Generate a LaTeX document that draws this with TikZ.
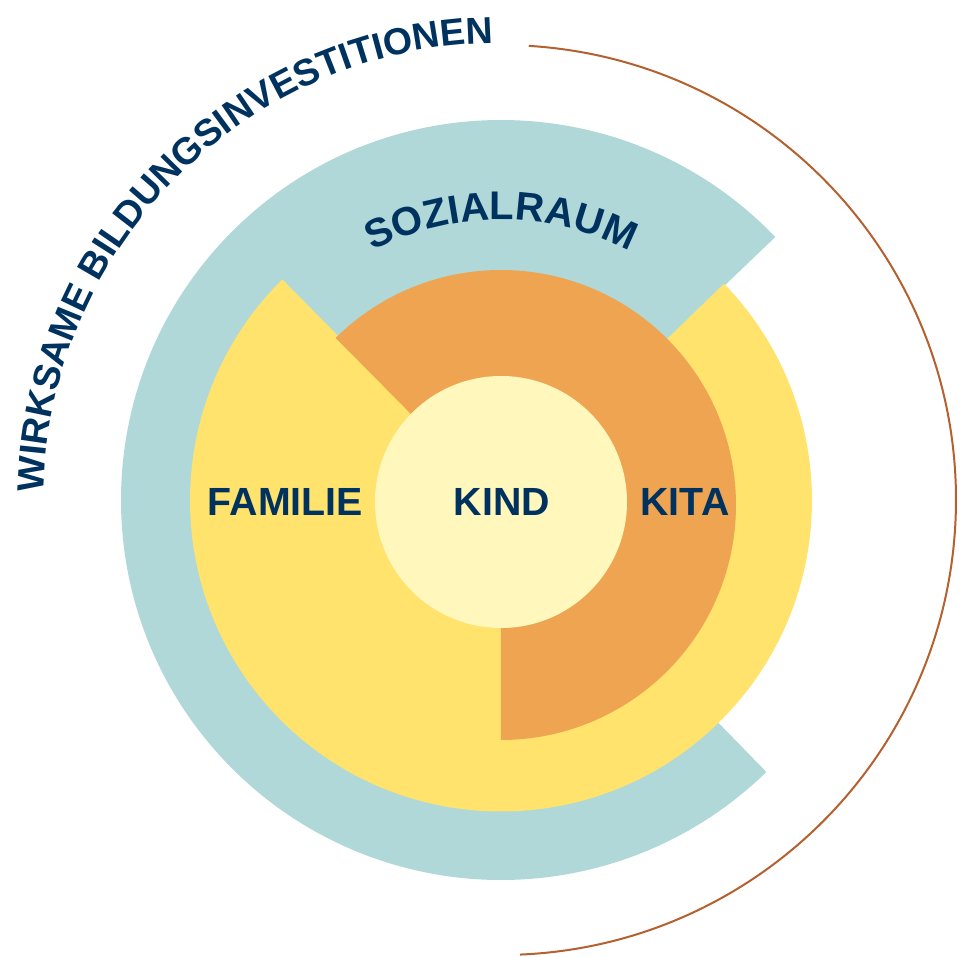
\documentclass[tikz,border=0pt]{standalone}
\usepackage{fontspec}
\setmainfont{Liberation Sans}
\usetikzlibrary{decorations.text}
\definecolor{tealc}{RGB}{176,216,216}
\definecolor{yelc}{RGB}{255,227,108}
\definecolor{orac}{RGB}{238,164,81}
\definecolor{kindc}{RGB}{255,247,188}
\definecolor{navy}{RGB}{0,50,96}
\definecolor{brownc}{RGB}{180,96,47}
\tikzset{
  lab/.style={text=navy, font=\fontsize{39.3}{40}\selectfont\bfseries, inner sep=0pt, anchor=base},
}
\begin{document}
\begin{tikzpicture}[x=1pt,y=1pt]
\useasboundingbox (-501,-456) rectangle (460,500);
% outer teal ring sector
\fill[tealc] (0,0) -- (43.8:380pt) arc[start angle=43.8,end angle=314.3,radius=380pt] -- cycle;
% yellow sector
\fill[yelc] (0,-0.5) -- ++(134.7:311pt) arc[start angle=134.7,end angle=404.2,radius=311pt] -- cycle;
% orange sector
\fill[orac] (0,-5) -- ++(134.7:235pt) arc[start angle=134.7,end angle=-90,radius=235pt] -- cycle;
% kind circle
\fill[kindc] (0,-2) circle[radius=126pt];
% labels
\node[lab] (familie) at (-215.5,-15.7) {FAMILIE};
\node[lab] (kind) at (1,-15.7) {KIND};
\node[lab] (kita) at (184,-15.7) {KITA};
% curved texts
\path[decorate, decoration={text along path, text color=navy,
  text={|\fontsize{40}{40}\selectfont\bfseries|SOZIALRAUM}, text align=center}]
  (120:280pt) arc[start angle=120,end angle=60,radius=280pt];
\path[decorate, decoration={text along path, text color=navy,
  text={|\fontsize{37.5}{40}\selectfont\bfseries|WIRKSAME BILDUNGSINVESTITIONEN}, text align=center}]
  (180:457pt) arc[start angle=180,end angle=90,radius=457pt];
% brown arc
\draw[brownc, line width=2pt] (86.5:455pt) arc[start angle=86.5,end angle=-87.6,radius=455pt];
\end{tikzpicture}
\end{document}
